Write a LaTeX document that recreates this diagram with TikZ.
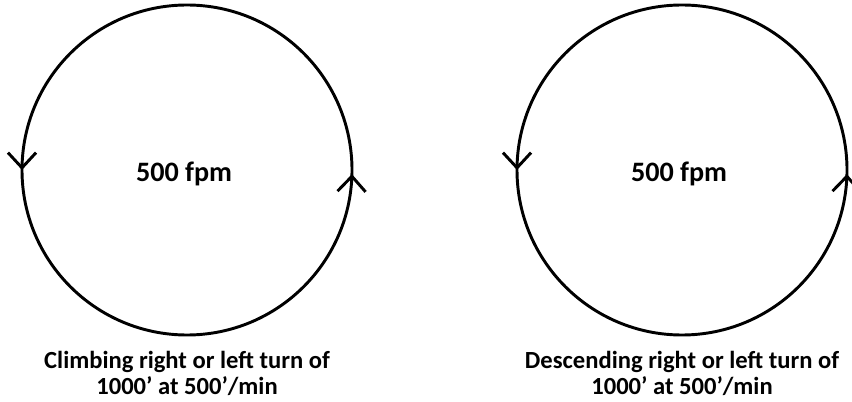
\documentclass[tikz,border=0pt]{standalone}
\usepackage{fontspec}
\setmainfont{Carlito}
\usetikzlibrary{arrows.meta,decorations.markings}
\tikzset{
  turnring/.style={line width=2.5pt,postaction={decorate},
    decoration={markings,
      mark=at position 0.004 with {\arrowreversed{Straight Barb[length=13pt,width=24pt,line width=2.5pt]}},
      mark=at position #1 with {\arrowreversed{Straight Barb[length=13pt,width=24pt,line width=2.5pt]}}}},
  ratelbl/.style={font=\bfseries\fontsize{24}{26}\selectfont,anchor=base},
  caption/.style={font=\bfseries\fontsize{21}{22.5}\selectfont,align=center,anchor=north}
}
\begin{document}
\begin{tikzpicture}[x=0.03cm,y=-0.03cm]
  \useasboundingbox (0,0) rectangle (852,402);
  % circle centre / name / caption word
  \foreach \cx/\nm/\kind in {187/climb/Climbing,682/descend/Descending}{
    \draw[turnring=0.5] (\cx,170) circle[radius=165];
    \node[ratelbl] (\nm-rate) at (\cx-3,182) {500 fpm};
    \node[caption] (\nm-text) at (\cx,347) {\kind{} right or left turn of\\1000’ at 500’/min};
  }
\end{tikzpicture}
\end{document}
